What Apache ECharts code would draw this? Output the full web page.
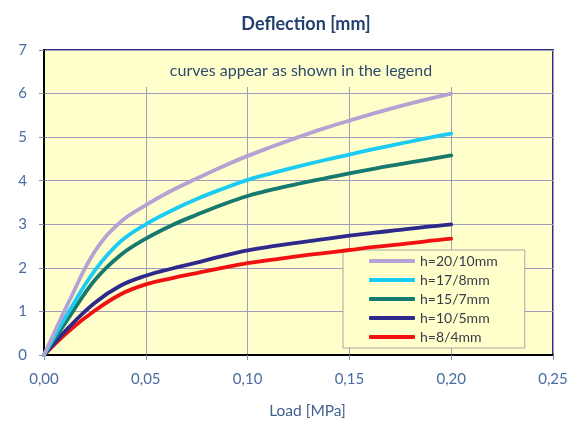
<!DOCTYPE html>
<html>
<head>
<meta charset="utf-8">
<script src="https://cdn.jsdelivr.net/npm/echarts@6/dist/echarts.min.js"></script>
<style>html,body{margin:0;padding:0;background:#fff;}#c{width:574px;height:421px;}</style>
</head>
<body>
<div id="c"></div>
<script>
var loads = [0, 0.0125, 0.025, 0.0375, 0.05, 0.0625, 0.075, 0.0875, 0.10, 0.1125, 0.125, 0.1375, 0.15, 0.1625, 0.175, 0.1875, 0.20];
var h20 = [0, 1.25, 2.38, 3.05, 3.44, 3.77, 4.05, 4.32, 4.57, 4.79, 5.0, 5.2, 5.38, 5.55, 5.71, 5.86, 6.0];
var h17 = [0, 1.02, 1.94, 2.6, 3.0, 3.31, 3.58, 3.81, 4.02, 4.18, 4.33, 4.47, 4.6, 4.73, 4.85, 4.97, 5.08];
var h15 = [0, 0.88, 1.72, 2.29, 2.67, 2.97, 3.22, 3.45, 3.65, 3.8, 3.93, 4.05, 4.17, 4.28, 4.38, 4.48, 4.58];
var h10 = [0, 0.65, 1.2, 1.59, 1.82, 1.98, 2.12, 2.27, 2.40, 2.5, 2.58, 2.66, 2.74, 2.81, 2.87, 2.94, 3.0];
var h8 = [0, 0.56, 1.02, 1.39, 1.62, 1.76, 1.88, 2.0, 2.11, 2.19, 2.27, 2.34, 2.41, 2.48, 2.54, 2.61, 2.67];
var seriesNames = ['h=20/10mm', 'h=17/8mm', 'h=15/7mm', 'h=10/5mm', 'h=8/4mm'];
var seriesColors = ['#B3A3D3', '#1CCBF3', '#15796F', '#2E2A8C', '#F21111'];
var seriesValues = [h20, h17, h15, h10, h8];

function pairs(v) { return loads.map(function (x, i) { return [x, v[i]]; }); }

var chart = echarts.init(document.getElementById('c'), null, {renderer: 'canvas'});
var FONT = 'Lato';
var series = seriesNames.map(function (n, i) {
  return {
    name: n, type: 'line', smooth: 0.4, showSymbol: false, symbol: 'none',
    data: pairs(seriesValues[i]),
    lineStyle: {color: seriesColors[i], width: 3.8, cap: 'round', join: 'round'},
    itemStyle: {color: seriesColors[i]},
    z: 10 - i
  };
});

chart.setOption({
  animation: false,
  backgroundColor: '#ffffff',
  title: {
    text: 'Deflection [mm]', left: 301, top: 10, textAlign: 'center',
    textStyle: {fontFamily: FONT, fontSize: 18, fontWeight: 'bold', color: '#23406E'}
  },
  grid: {
    left: 44, right: 21, top: 50, bottom: 66, show: true, outerBoundsMode: 'none', containLabel: false,
    backgroundColor: '#FFFFCC', borderColor: '#2F2F8A', borderWidth: 2
  },
  xAxis: {
    type: 'value', min: 0, max: 0.25, interval: 0.05,
    name: 'Load [MPa]', nameLocation: 'middle', nameGap: 48,
    nameTextStyle: {fontFamily: FONT, fontSize: 15.5, color: '#3F5F8F', padding: [0, 0, 0, 18]},
    axisLine: {show: true, onZero: false, lineStyle: {color: '#000', width: 2}},
    axisTick: {show: true, length: 5, lineStyle: {color: '#8C8C9C'}},
    axisLabel: {fontFamily: FONT, fontSize: 15, color: '#4A6CA0', margin: 17,
      formatter: function (v) { return v.toFixed(2).replace('.', ','); }},
    splitLine: {show: true, lineStyle: {color: '#A29DBB', width: 1}}
  },
  yAxis: {
    type: 'value', min: 0, max: 7, interval: 1,
    axisLine: {show: true, onZero: false, lineStyle: {color: '#000', width: 2}},
    axisTick: {show: true, length: 5, lineStyle: {color: '#8C8C9C'}},
    axisLabel: {fontFamily: FONT, fontSize: 15, color: '#4A6CA0', margin: 17},
    splitLine: {show: true, lineStyle: {color: '#A29DBB', width: 1}}
  },
  legend: {
    orient: 'vertical', left: 343, top: 250,
    backgroundColor: '#FFFFCC', borderColor: '#A8A8A8', borderWidth: 1,
    padding: [4, 27, 4, 26], itemGap: 5, itemWidth: 46, itemHeight: 4,
    icon: 'roundRect', itemTextGap: 4,
    textStyle: {fontFamily: FONT, fontSize: 14, color: '#3A3A4A'},
    data: seriesNames
  },
  graphic: [
    {type: 'rect', left: 45, top: 51, shape: {width: 507, height: 36}, style: {fill: '#FFFFCC'}, z: 1, silent: true},
    {type: 'text', x: 301, y: 71, z: 2, style: {text: 'curves appear as shown in the legend', fill: '#2E4A6E', font: '16px Lato', align: 'center', verticalAlign: 'middle'}}
  ],
  series: series
});
</script>
</body>
</html>
